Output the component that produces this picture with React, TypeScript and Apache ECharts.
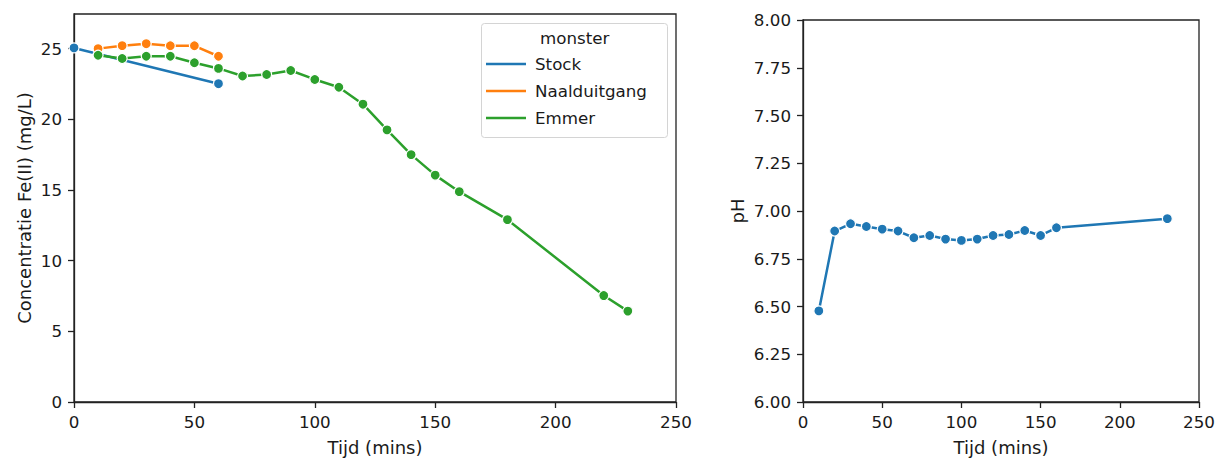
import React, { useEffect, useRef } from "react";
import * as echarts from "echarts";

// ---- data ----
const stockTime = [0, 60];
const stockFe = [25.05, 22.52];
const naaldTime = [10, 20, 30, 40, 50, 60];
const naaldFe = [25.0, 25.21, 25.35, 25.2, 25.2, 24.46];
const emmerTime = [10, 20, 30, 40, 50, 60, 70, 80, 90, 100, 110, 120, 130, 140, 150, 160, 180, 220, 230];
const emmerFe = [24.53, 24.3, 24.46, 24.46, 24.0, 23.6, 23.06, 23.17, 23.45, 22.82, 22.27, 21.07, 19.25, 17.5, 16.05, 14.88, 12.9, 7.53, 6.43];
const phTime = [10, 20, 30, 40, 50, 60, 70, 80, 90, 100, 110, 120, 130, 140, 150, 160, 230];
const phValues = [6.477, 6.895, 6.933, 6.919, 6.905, 6.895, 6.86, 6.872, 6.853, 6.846, 6.853, 6.872, 6.877, 6.898, 6.872, 6.912, 6.96];
const timeTicks = [0, 50, 100, 150, 200, 250];
const feTicks = [0, 5, 10, 15, 20, 25];
const seriesNames = ["Stock", "Naalduitgang", "Emmer"];
const seriesColors = ["#1f77b4", "#ff7f0e", "#2ca02c"];
const legendTitle = "monster";

const FONT = "DejaVu Sans";
const INK = "#1a1a1a";
const FRAME = "#222";
const FS = 16.7;
const NAME_FS = 18;

const zip = (xs: number[], ys: number[]) => xs.map((x, i) => [x, ys[i]]);

function axisBase() {
  return {
    axisLine: { show: true, onZero: false, lineStyle: { color: FRAME, width: 1.3 } },
    axisTick: { show: true, inside: false, length: 6, lineStyle: { color: FRAME, width: 1.3 } },
    splitLine: { show: false },
    nameTextStyle: { color: INK, fontSize: NAME_FS, fontFamily: FONT },
  };
}

function lineSeries(name: string, color: string, data: number[][], xi: number, yi: number) {
  return {
    name,
    type: "line",
    xAxisIndex: xi,
    yAxisIndex: yi,
    data,
    symbol: "circle",
    symbolSize: 10,
    showAllSymbol: true,
    lineStyle: { color, width: 2.5 },
    itemStyle: { color, borderColor: "#fff", borderWidth: 1.2 },
    emphasis: { disabled: true },
  };
}

export default function App() {
  const ref = useRef<HTMLDivElement>(null);
  useEffect(() => {
    document.body.style.margin = "0";
    const chart = echarts.init(ref.current!, null, { renderer: "svg" });
    const option: any = {
      animation: false,
      backgroundColor: "#fff",
      textStyle: { fontFamily: FONT },
      grid: [
        { left: 74, top: 14, width: 602, height: 392, show: true, borderColor: FRAME, borderWidth: 1.3 },
        { left: 803, top: 20, width: 396, height: 386.5, show: true, borderColor: FRAME, borderWidth: 1.3 },
      ],
      xAxis: [
        {
          ...axisBase(),
          type: "value",
          gridIndex: 0,
          min: 0,
          max: 250,
          interval: 50,
          name: "Tijd (mins)",
          nameLocation: "middle",
          nameGap: 36,
          axisLabel: { color: INK, fontSize: FS, fontFamily: FONT, margin: 11, customValues: timeTicks },
          axisTick: { ...axisBase().axisTick, customValues: timeTicks },
        },
        {
          ...axisBase(),
          type: "value",
          gridIndex: 1,
          min: 0,
          max: 250,
          interval: 50,
          name: "Tijd (mins)",
          nameLocation: "middle",
          nameGap: 36,
          axisLabel: { color: INK, fontSize: FS, fontFamily: FONT, margin: 11, customValues: timeTicks },
          axisTick: { ...axisBase().axisTick, customValues: timeTicks },
        },
      ],
      yAxis: [
        {
          ...axisBase(),
          type: "value",
          gridIndex: 0,
          min: 0,
          max: 27.45,
          interval: 5,
          name: "Concentratie Fe(II) (mg/L)",
          nameLocation: "middle",
          nameGap: 41,
          nameRotate: 90,
          axisLabel: { color: INK, fontSize: FS, fontFamily: FONT, margin: 12, customValues: feTicks },
          axisTick: { ...axisBase().axisTick, customValues: feTicks },
        },
        {
          ...axisBase(),
          type: "value",
          gridIndex: 1,
          min: 6,
          max: 8,
          interval: 0.25,
          name: "pH",
          nameLocation: "middle",
          nameGap: 57,
          nameRotate: 90,
          axisLabel: {
            color: INK,
            fontSize: FS,
            fontFamily: FONT,
            margin: 12,
            formatter: (v: number) => v.toFixed(2),
          },
        },
      ],
      legend: {
        data: seriesNames,
        orient: "vertical",
        left: 486,
        top: 54,
        padding: 0,
        itemGap: 7,
        icon: "rect",
        itemWidth: 40,
        itemHeight: 2.5,
        itemStyle: { borderWidth: 0 },
        textStyle: { color: INK, fontSize: FS, fontFamily: FONT, lineHeight: 20, padding: [0, 0, 0, 4] },
        selectedMode: false,
        z: 10,
      },
      graphic: [
        {
          type: "rect",
          left: 481,
          top: 23,
          shape: { width: 186, height: 114, r: 3 },
          style: { fill: "rgba(255,255,255,0.8)", stroke: "#d4d4d4", lineWidth: 1 },
          z: 5,
        },
        {
          type: "text",
          left: 540,
          top: 29,
          style: { text: legendTitle, fill: INK, font: `${FS}px "${FONT}"` },
          z: 11,
        },
      ],
      series: [
        lineSeries(seriesNames[0], seriesColors[0], zip(stockTime, stockFe), 0, 0),
        lineSeries(seriesNames[1], seriesColors[1], zip(naaldTime, naaldFe), 0, 0),
        lineSeries(seriesNames[2], seriesColors[2], zip(emmerTime, emmerFe), 0, 0),
        { ...lineSeries("pH", seriesColors[0], zip(phTime, phValues), 1, 1) },
      ],
    };
    chart.setOption(option);
    return () => chart.dispose();
  }, []);
  return <div ref={ref} style={{ width: 1223, height: 461 }} />;
}
